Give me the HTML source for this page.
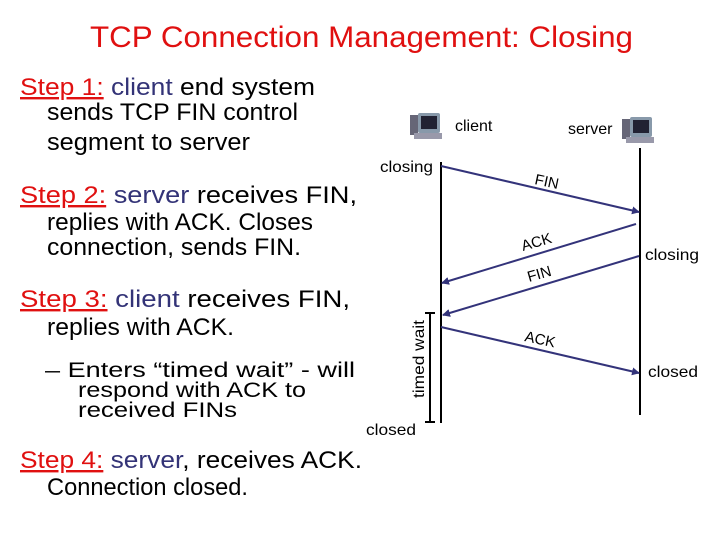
<!DOCTYPE html>
<html><head><style>body{margin:0;background:#fff}svg{display:block}text{font-family:"Liberation Sans",sans-serif}</style></head><body>
<svg width="720" height="540" viewBox="0 0 720 540" xmlns="http://www.w3.org/2000/svg">
<defs><marker id="a" markerWidth="8" markerHeight="8" refX="7" refY="4" orient="auto" markerUnits="userSpaceOnUse"><path d="M0,0 L8,4 L0,8 z" fill="#33337a"/></marker>
<g id="pc"><rect x="0" y="2" width="8" height="20" fill="#667"/><rect x="8" y="0" width="22" height="20" rx="2" fill="#8899aa"/><rect x="11" y="3" width="16" height="13" fill="#223"/><rect x="4" y="20" width="28" height="6" fill="#99a"/></g></defs>
<text x="90" y="47" font-size="30" fill="#e01010" textLength="543" lengthAdjust="spacingAndGlyphs">TCP Connection Management: Closing</text>
<g font-size="24">
<text x="20" y="95" textLength="295" lengthAdjust="spacingAndGlyphs"><tspan fill="#e01010" text-decoration="underline">Step 1:</tspan> <tspan fill="#333377">client</tspan> end system</text>
<text x="47" y="120" textLength="251" lengthAdjust="spacingAndGlyphs">sends TCP FIN control</text>
<text x="47" y="150" textLength="203" lengthAdjust="spacingAndGlyphs">segment to server</text>
<text x="20" y="203" textLength="337" lengthAdjust="spacingAndGlyphs"><tspan fill="#e01010" text-decoration="underline">Step 2:</tspan> <tspan fill="#333377">server</tspan> receives FIN,</text>
<text x="47" y="230" textLength="266" lengthAdjust="spacingAndGlyphs">replies with ACK. Closes</text>
<text x="47" y="255" textLength="254" lengthAdjust="spacingAndGlyphs">connection, sends FIN.</text>
<text x="20" y="307" textLength="330" lengthAdjust="spacingAndGlyphs"><tspan fill="#e01010" text-decoration="underline">Step 3:</tspan> <tspan fill="#333377">client</tspan> receives FIN,</text>
<text x="47" y="335" textLength="187" lengthAdjust="spacingAndGlyphs">replies with ACK.</text>
<text x="20" y="468" textLength="342" lengthAdjust="spacingAndGlyphs"><tspan fill="#e01010" text-decoration="underline">Step 4:</tspan> <tspan fill="#333377">server</tspan>, receives ACK.</text>
<text x="47" y="495" textLength="201" lengthAdjust="spacingAndGlyphs">Connection closed.</text>
</g>
<g font-size="21">
<text x="45" y="377" textLength="310" lengthAdjust="spacingAndGlyphs">– Enters “timed wait” - will</text>
<text x="78" y="397" textLength="228" lengthAdjust="spacingAndGlyphs">respond with ACK to</text>
<text x="78" y="417" textLength="159" lengthAdjust="spacingAndGlyphs">received FINs</text>
</g>
<use href="#pc" x="410" y="113"/><use href="#pc" x="622" y="117"/>
<g font-size="16">
<text x="455" y="131">client</text>
<text x="568" y="134">server</text>
<text x="380" y="172" textLength="53" lengthAdjust="spacingAndGlyphs">closing</text>
<text x="645" y="260" textLength="54" lengthAdjust="spacingAndGlyphs">closing</text>
<text x="648" y="377" textLength="50" lengthAdjust="spacingAndGlyphs">closed</text>
<text x="366" y="435" textLength="50" lengthAdjust="spacingAndGlyphs">closed</text>
<text transform="translate(424,398) rotate(-90)" textLength="78" lengthAdjust="spacingAndGlyphs">timed wait</text>
</g>
<g font-size="15">
<text transform="translate(534,184) rotate(12)">FIN</text>
<text transform="translate(523,251) rotate(-16)">ACK</text>
<text transform="translate(529,282) rotate(-16)">FIN</text>
<text transform="translate(524,341) rotate(12)">ACK</text>
</g>
<g stroke="#000" stroke-width="2"><line x1="441" y1="162" x2="441" y2="423"/><line x1="640" y1="148" x2="640" y2="415"/>
<line x1="430" y1="313" x2="430" y2="422"/><line x1="425" y1="313" x2="435" y2="313"/><line x1="425" y1="422" x2="435" y2="422"/></g>
<g stroke="#33337a" stroke-width="2" marker-end="url(#a)">
<line x1="441" y1="166" x2="639" y2="212"/>
<line x1="636" y1="224" x2="442" y2="283"/>
<line x1="639" y1="256" x2="443" y2="315"/>
<line x1="441" y1="327" x2="639" y2="373"/>
</g>
</svg>
</body></html>
